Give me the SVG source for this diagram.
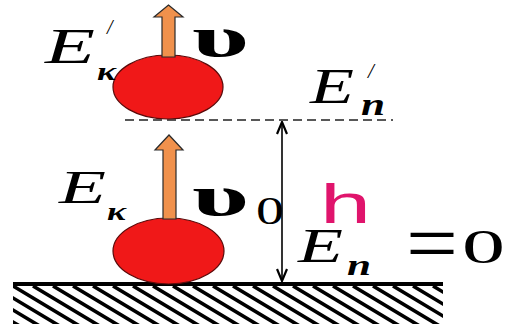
<svg xmlns="http://www.w3.org/2000/svg" width="505" height="329" viewBox="0 0 505 329">
<style>
.ball{fill:#F01818;stroke:#5a0a0a;stroke-width:1.2}
.arr{fill:#F0914C;stroke:#2a2a2a;stroke-width:1.2}
.E{font-family:"Liberation Serif",serif;font-style:italic;fill:#000}
.sub{font-family:"Liberation Serif",serif;font-style:italic;font-weight:bold;fill:#000}
.ups{font-family:"Liberation Serif",serif;font-weight:bold;fill:#000}
.num{font-family:"Liberation Serif",serif;fill:#000}
.h{font-family:"Liberation Sans",sans-serif;fill:#E0146C}
</style>
<defs>
<marker id="v" viewBox="0 0 14 12" refX="13" refY="6" markerWidth="14" markerHeight="12" markerUnits="userSpaceOnUse" orient="auto-start-reverse">
<path d="M1,1 L13,6 L1,11" fill="none" stroke="#000" stroke-width="2.2"/>
</marker>
<clipPath id="gc"><rect x="13" y="286" width="430" height="38"/></clipPath>
</defs>

<g id="ground">
<line x1="13" y1="284" x2="443" y2="284" stroke="#000" stroke-width="4"/>
<g clip-path="url(#gc)" stroke="#000" stroke-width="3.6">
<path d="M-67,286 l70,42 M-47,286 l70,42 M-27,286 l70,42 M-7,286 l70,42 M13,286 l70,42 M33,286 l70,42 M53,286 l70,42 M73,286 l70,42 M93,286 l70,42 M113,286 l70,42 M133,286 l70,42 M153,286 l70,42 M173,286 l70,42 M193,286 l70,42 M213,286 l70,42 M233,286 l70,42 M253,286 l70,42 M273,286 l70,42 M293,286 l70,42 M313,286 l70,42 M333,286 l70,42 M353,286 l70,42 M373,286 l70,42 M393,286 l70,42 M413,286 l70,42 M433,286 l70,42"/>
</g>
</g>

<g id="connectors">
<line x1="125" y1="120" x2="393" y2="120" stroke="#222" stroke-width="1.5" stroke-dasharray="9 5"/>
<line x1="282" y1="122" x2="282" y2="281" stroke="#000" stroke-width="1.6" marker-start="url(#v)" marker-end="url(#v)"/>
</g>

<g id="top-ball">
<ellipse class="ball" cx="168" cy="87" rx="55" ry="32"/>
<path class="arr" d="M162,57 L162,17 L154,17 L168.5,5 L183,17 L175,17 L175,57 Z"/>
<text class="E" x="45" y="63" font-size="50" textLength="50" lengthAdjust="spacingAndGlyphs">E</text>
<text class="E" x="107" y="34" font-size="20">/</text>
<text class="sub" x="97" y="80" font-size="26" textLength="19" lengthAdjust="spacingAndGlyphs">κ</text>
<text class="ups" x="192" y="56" font-size="56" textLength="57" lengthAdjust="spacingAndGlyphs">υ</text>
<text class="E" x="310" y="103" font-size="50" textLength="44" lengthAdjust="spacingAndGlyphs">E</text>
<text class="E" x="368" y="78" font-size="21">/</text>
<text class="sub" x="361" y="115" font-size="32" textLength="24" lengthAdjust="spacingAndGlyphs">n</text>
</g>

<g id="bottom-ball">
<ellipse class="ball" cx="168.5" cy="251" rx="55.5" ry="33"/>
<path class="arr" d="M163,219 L163,150 L155,150 L169,135 L183,150 L176,150 L176,219 Z"/>
<text class="E" x="59" y="203" font-size="47" textLength="47" lengthAdjust="spacingAndGlyphs">E</text>
<text class="sub" x="107" y="220" font-size="26" textLength="19" lengthAdjust="spacingAndGlyphs">κ</text>
<text class="ups" x="192" y="215" font-size="56" textLength="57" lengthAdjust="spacingAndGlyphs">υ</text>
<text class="num" x="256" y="224" font-size="40" textLength="28" lengthAdjust="spacingAndGlyphs">0</text>
<text class="h" x="320" y="223" font-size="56" textLength="51" lengthAdjust="spacingAndGlyphs">h</text>
<text class="E" x="298" y="262" font-size="48" textLength="45" lengthAdjust="spacingAndGlyphs">E</text>
<text class="sub" x="347" y="275" font-size="30" textLength="24" lengthAdjust="spacingAndGlyphs">n</text>
<text class="num" x="406" y="272" font-size="84" textLength="52" lengthAdjust="spacingAndGlyphs">=</text>
<text class="num" x="462" y="263" font-size="48" textLength="43" lengthAdjust="spacingAndGlyphs">0</text>
</g>
</svg>
